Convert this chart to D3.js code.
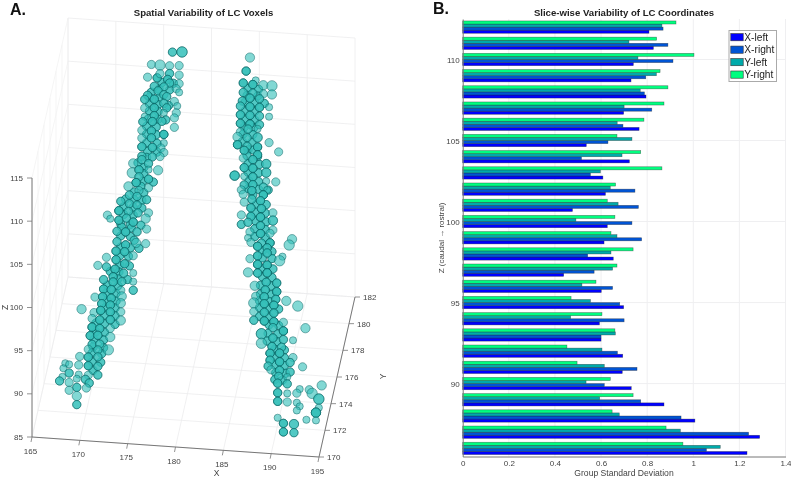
<!DOCTYPE html>
<html><head><meta charset="utf-8">
<script src="https://cdn.jsdelivr.net/npm/d3@7/dist/d3.min.js"></script>
<style>html,body{margin:0;padding:0;background:#fff}svg{display:block;filter:blur(.35px)}text{font-family:"Liberation Sans",Arial,sans-serif}</style>
</head><body>
<svg id="c" width="791" height="479"></svg>
<script>
// Panel B data
const sliceZ = [112,111,110,109,108,107,106,105,104,103,102,101,100,99,98,97,96,95,94,93,92,91,90,89,88,87,86];
const xLeft  = [.808,.827,.74,.73,.795,.698,.765,.536,.723,.608,.619,.476,.627,.613,.653,.438,.601,.698,.593,.60,.694,.692,.731,.873,1.007,1.288,1.233];
const xRight = [.869,.89,.912,.794,.788,.82,.695,.63,.515,.554,.747,.762,.734,.776,.542,.57,.65,.681,.70,.60,.671,.756,.614,.772,.947,1.24,1.057];
const yLeft  = [.864,.721,.76,.84,.77,.70,.67,.734,.691,.597,.64,.674,.491,.669,.643,.65,.517,.554,.468,.662,.604,.614,.535,.594,.679,.944,1.117];
const yRight = [.925,.841,1.003,.856,.89,.873,.786,.669,.772,.864,.663,.627,.66,.643,.739,.669,.578,.47,.604,.66,.452,.496,.64,.739,.648,.882,.955];
const seriesNames = ["X-left","X-right","Y-left","Y-right"];
const seriesColors = ["#0000ff","#0054d4","#00aaaa","#00ff80"];
const devTicks = [0,.2,.4,.6,.8,1,1.2,1.4];
const zBarTicks = [90,95,100,105,110];

// Panel A data: voxel centres, left strand
const leftX = [177.8,178.8,175.6,176.5,177.5,178.5,175.2,176.2,176.5,177.5,
178.5,177.3,178.5,177.5,175.9,176.9,178.2,178.5,175.2,176.3,
176.9,177.2,174.9,175.9,176.9,178,178.3,174.9,175.9,177.2,
178.2,174.9,175.9,176.9,178,174.7,175.7,176.7,178,174.6,
175.6,176.9,174.6,175.6,176.9,174.6,175.7,176.6,176.9,174.6,
175.7,176.5,173.7,174.6,175.3,173.6,174.3,175.3,176.3,174.3,
175.3,174,173.2,175.3,174.3,173.3,174.1,175.1,172.4,173.3,
174.1,172.2,173.2,174.2,175.3,171,171.3,172.2,173,173.7,
175,172,172.9,174.1,175.1,172,172.9,174,175,171.9,
172.8,170.9,173.7,170,170.9,171.9,172.8,171.8,171.6,172.7,
173.7,170.6,171.6,172.5,173.7,173.7,170.6,171.4,172.4,169.7,
170.5,171.4,172.5,168.3,170.4,171.3,172.4,169.6,170.3,171.3,
172.4,169.4,170.2,171.3,172.4,169.4,170.2,171.3,169.2,170,
171.3,169.4,170.2,169,170,171.1,168.1,169,170,166.6,
167,168,169,170,166.4,167,168,169,170,166.3,
166,167,167.8,168.7,169.1,167.8,168.8,167,167.8,167.8];
const leftZ = [121.3,121.4,119.7,119.7,119.7,119.8,118.2,118.2,118.7,118.8,
118.7,118.1,117.7,117.7,117.2,117.2,117.1,116.7,116.1,116.7,
116.3,116.1,115.6,115.7,115.3,115.6,115.1,114.6,114.7,114.8,
114.3,113.6,113.8,114.2,113.7,113,113.1,113.2,112.6,112,
112,111.7,111.1,111.2,110.7,110.1,110.1,110.1,109.6,109,
109,109.1,108.1,108.6,108.2,107,107.4,107.5,107.5,106.6,
106.4,105.9,105.4,105.4,105,104.4,104.3,104,103.6,103.4,
103.3,102.5,102.5,102.4,102.5,101.9,101.5,101.4,101.7,101.3,
101.8,100.1,100.1,100.2,100.6,98.9,98.6,98.9,98.9,97.8,
97.8,97,97.4,96,95.9,96.8,96.4,95.7,94.8,95.3,
95.4,94.4,94.2,94.3,94.4,93.4,93.3,93.3,93.3,92.3,
92.4,92.3,92.6,90.8,91.6,91.5,91.8,90.5,90.8,90.7,
90.8,89.8,89.7,89.8,89.8,88.8,88.7,88.8,87.8,87.9,
87.8,86.8,86.9,86.2,86.2,86.3,85.3,85.3,85.4,84.4,
84.3,84.3,84.3,84.3,83.8,83.3,83.2,83.2,83.3,82.8,
82.3,82.2,82.7,82.7,82.3,81.7,81.7,81.3,80.7,79.7];
const leftWeight = [2,4,2,4,2,2,2,2,2,2,
2,2,2,2,2,2,2,1,2,2,
2,2,2,2,2,2,1,2,2,2,
2,1,2,1,2,2,2,2,2,2,
2,2,2,2,1,2,2,2,2,2,
2,2,3,2,2,4,2,1,3,2,
2,2,3,2,2,2,2,2,2,2,
2,2,2,2,2,2,1,2,2,2,
3,2,2,2,2,2,2,3,2,2,
2,2,2,2,2,2,2,2,2,2,
1,2,2,2,1,2,2,2,2,2,
2,2,3,3,2,2,3,2,2,2,
2,2,2,2,3,2,2,2,2,2,
3,2,2,2,2,4,2,2,2,1,
1,2,2,2,1,2,1,2,2,1,
2,2,1,2,2,2,2,2,3,2];
const leftCount = [2,2,1,1,1,1,1,3,1,2,
1,3,1,2,2,2,1,1,2,2,
2,2,2,3,2,1,1,1,3,2,
1,1,3,1,1,2,3,2,1,1,
3,4,1,3,1,3,3,1,1,2,
2,1,1,2,2,1,3,1,1,2,
3,4,1,1,1,2,2,2,2,2,
2,4,2,2,1,1,1,3,2,3,
1,2,4,2,1,2,3,1,1,3,
3,1,1,1,2,3,3,3,3,2,
1,2,3,2,1,2,3,3,1,1,
3,3,1,1,3,3,1,1,4,3,
1,1,3,3,1,4,3,1,3,3,
1,2,2,1,2,1,1,3,2,1,
1,1,3,2,1,2,1,1,2,1,
2,1,1,2,2,2,1,1,1,2];

// Panel A data: voxel centres, right strand
const rightX = [185.9,185.5,186.5,185.2,186.2,187.3,188.2,185.2,186.2,187.3,
188.2,185.1,185.9,186.9,184.9,185.9,186.9,187.9,184.9,185.9,
186.9,187.9,184.9,185.9,186.9,184.9,185.7,186.7,184.6,185.6,
186.7,187.9,184.6,185.6,186.7,188.9,185.3,186.7,185.2,186.2,
187.6,185.3,186.2,187.6,184.3,185.3,186.2,187.6,188.6,185.3,
186.2,187.3,185,186.1,187.7,185.2,187.3,186.1,185.3,187,
186,187.1,185,188.3,186,187,185,188.3,185.7,187,
188.3,185.9,187,188,185.7,190.3,190,186,188,186.7,
187.7,189.3,185.9,186.7,187.7,186.7,187.7,189,185.7,186.7,
187.7,188.7,186.4,187.6,187.5,188.7,186.5,187.4,188.6,189.7,
186.3,187.4,188.4,190.9,186.3,187.4,188.4,186.3,187.4,188.4,
189.4,191.7,188.3,189.4,187.1,188.3,189.4,190.4,187.1,188.2,
189.2,188,189,190.4,188,189,190.1,191.4,187.8,188.1,
189,190.1,188.9,189.8,188.8,189.8,191.1,193.4,192.1,188.8,
189.8,190.8,192.4,193.1,188.8,189.8,190.8,191.1,193.1,190.8,
192.8,188.8,191.8,192.8,189.4,190.5,189.4,190.5];
const rightZ = [121.3,119.7,118.7,118.3,118.2,118.2,118.2,117.2,117.2,117.2,
117.2,116.2,116.6,116.6,115.6,115.6,115.6,115.7,114.6,114.6,
114.6,114.6,113.6,113.6,113.6,112.6,113,113.1,112,112,
112.1,111.6,111.1,111,111,110.6,110.5,110.1,109.6,109.5,
109.1,108.5,108.5,108.1,107.5,107.5,107.5,107.1,107.1,106.5,
106.6,106.4,105.9,105.9,106.1,105.4,105.5,104.9,104.5,104.8,
103.9,103.9,103,103.5,102.9,102.9,101.9,102.6,102.2,101.9,
101.5,101.1,101,101.1,100.4,100.6,99.9,99.9,100,99.5,
99.4,98.5,98,98.4,98.8,97.4,97.4,98,96.4,96.4,
96.5,95.4,94.9,95.4,94.5,94.4,93.7,93.7,93.5,93.4,
92.9,92.9,92.8,92.9,91.9,91.9,91.9,90.9,90.9,90.9,
90.9,90.4,90.2,89.9,89.4,89,88.9,88.9,88.3,88,
88,87.2,87.3,86.9,86.4,86.3,86.3,85.9,85.7,85.3,
85.3,85.2,84.6,84.6,83.8,83.8,83.3,83.9,83.3,82.7,
82.7,82.8,82.9,82.3,81.7,81.7,81.7,81.3,81.3,80.8,
80.7,79.8,79.8,79.8,79.2,79.2,78.2,78.2];
const rightWeight = [3,2,1,2,2,3,4,2,2,2,
3,2,2,2,2,2,2,1,2,2,
2,1,2,2,2,2,2,1,3,2,
3,2,2,2,2,2,2,2,2,2,
3,2,2,3,3,1,2,1,2,2,
2,2,2,2,1,2,2,2,2,2,
2,2,2,2,2,2,2,3,2,2,
2,2,2,2,1,3,4,2,2,2,
2,1,2,2,2,2,2,4,3,2,
2,2,3,2,2,2,2,2,2,3,
4,2,2,4,2,2,2,2,2,2,
2,3,2,2,4,2,2,1,4,2,
2,2,2,2,2,2,2,2,2,2,
2,2,2,1,2,2,1,3,2,2,
1,2,4,4,2,2,1,1,1,1,
3,1,1,1,2,3,2,2];
const rightCount = [1,3,1,3,4,1,1,2,2,1,
1,2,3,2,2,4,3,1,3,3,
2,1,3,4,2,1,2,1,1,2,
2,1,4,2,4,1,3,3,1,3,
2,3,4,2,3,1,3,1,1,2,
3,2,1,3,1,1,4,2,1,3,
3,3,1,1,3,4,2,2,2,3,
1,1,4,1,1,1,1,1,4,4,
3,1,1,3,3,4,4,1,1,3,
5,3,1,3,3,4,1,3,3,1,
1,4,4,1,1,3,3,2,4,4,
1,1,2,5,2,3,2,1,1,3,
2,4,4,1,3,4,2,1,2,1,
3,2,2,1,3,2,1,1,1,3,
1,1,1,2,3,1,1,1,1,1,
4,1,1,1,3,2,3,2];
// Core voxels between the outlined ones (two layers, medium size)
const coreX = [176.7,177.9,176.4,177.5,175.6,175.4,176.4,175.4,176.3,177.4,175.4,176.3,175.3,176.3,177.1,175.1,176.1,175.1,176.1,175.1,176.2,175.2,176.2,175.1,174.2,174.8,174.8,174.7,175.8,174.5,173.8,174.8,172.9,173.8,174.6,172.7,173.7,174.6,172.7,173.7,172.4,173.4,174.5,172.5,173.5,172.4,173.4,173.8,172.4,173.4,174.3,172.3,173.2,172.3,173.3,171.3,172.2,172.1,173.1,171,172.1,170.9,171.9,171,171.9,170.8,171.8,170.7,171.8,169.8,170.7,171.8,169.8,170.7,169.6,170.6,169.5,170.6,169.4,170.4,169.4,170.3,169.5,
185.7,186.8,185.6,186.7,185.4,186.4,187.4,185.4,186.4,185.4,186.4,185.3,186.3,185.2,186.2,185.1,186.1,185.7,186.3,185.6,186.7,185.7,186.9,185.7,186.8,185.8,186.8,185.7,186.8,187.8,186.2,186.6,187.6,186.4,187.5,186.5,187.6,186.4,187.5,186.4,187.5,187.1,187.2,188.2,187.2,188.2,187.2,188.3,187.2,188.2,187,188.1,187,188.1,186.9,187.9,186.9,187.9,188.9,186.9,187.9,187.9,188.9,187.8,188.8,187.7,188.7,188.5,189.5,188.5,189.5,188.5,189.5,188.6,189.6,188.5,189.3];
const coreZ = [117.7,117.7,116.9,116.9,116.5,115.9,115.9,115.1,115.1,115.1,114.3,114.3,113.4,113.4,113.4,112.5,112.5,111.6,111.6,110.6,110.6,109.6,109.6,108.9,108.2,107.7,107,106.1,106.1,105.5,104.8,104.8,103.9,103.9,103.9,103,103,103,102.1,102.1,101,101,101,100.6,100.6,99.6,99.6,99.2,98.3,98.3,98.3,97.3,97.3,96.2,96.2,95.4,95.4,94.6,94.6,93.8,93.8,92.9,92.9,92,92,91.2,91.2,90.3,90.3,89.3,89.3,89.3,88.3,88.3,87.4,87.4,86.5,86.5,85.8,85.8,84.8,84.8,83.8,
117.7,117.7,116.9,116.9,116.1,116.1,116.1,115.1,115.1,114.1,114.1,113.2,113.2,112.4,112.4,111.5,111.5,110.6,110.6,109.9,109.9,109,109,108,108,107,107,106.1,106.1,106.1,105.4,104.4,104.4,103.4,103.4,102.4,102.4,101.5,101.5,100.6,100.6,99.9,99,99,98.2,98.2,97,97,96,96,95,95,94,94,93.2,93.2,92.4,92.4,92.4,91.4,91.4,90.5,90.5,89.5,89.5,88.6,88.6,87.7,87.7,86.8,86.8,85.9,85.9,85,85,84.2,84.2];
const strandY = 176;
const sceneXTicks = [165,170,175,180,185,190,195];
const sceneYTicks = [170,172,174,176,178,180,182];
const sceneZTicks = [85,90,95,100,105,110,115];

const svg = d3.select("#c");
const INK = "#444";

// ---------- Panel A ----------
const origin = [32,437];
const xToH = d3.scaleLinear().domain([165,195]).range([0,287]);
const xToV = d3.scaleLinear().domain([165,195]).range([0,20]);
const yToH = d3.scaleLinear().domain([170,182]).range([0,36]);
const yToV = d3.scaleLinear().domain([170,182]).range([0,-160]);
const zToV = d3.scaleLinear().domain([85,115]).range([0,-259]);
const px = (x,y) => origin[0]+xToH(x)+yToH(y);
const py = (x,y,z) => origin[1]+xToV(x)+yToV(y)+zToV(z);
const rScale = d3.scaleLinear().domain([1,4]).range([3.6,5.2]);

const a = svg.append("g");
const gridC = "#ececee", wallC = "#f2f2f3";
function seg(g,p,q,c,w){g.append("line").attr("x1",p[0]).attr("y1",p[1]).attr("x2",q[0]).attr("y2",q[1]).attr("stroke",c).attr("stroke-width",w);}
const P = (x,y,z)=>[px(x,y),py(x,y,z)];
const [X0,X1]=xToH.domain(),[Y0,Y1]=yToH.domain(),[Z0,Z1]=zToV.domain();
sceneYTicks.forEach(y=>{ seg(a,P(X0,y,Z0),P(X0,y,Z1),wallC,.8); });
sceneZTicks.forEach(z=>{ seg(a,P(X0,Y0,z),P(X0,Y1,z),wallC,.8); });
sceneXTicks.forEach(x=>{ seg(a,P(x,Y0,Z0),P(x,Y1,Z0),gridC,.8); seg(a,P(x,Y1,Z0),P(x,Y1,Z1),gridC,.8); });
sceneYTicks.forEach(y=>{ seg(a,P(X0,y,Z0),P(X1,y,Z0),gridC,.8); });
sceneZTicks.forEach(z=>{ seg(a,P(X0,Y1,z),P(X1,Y1,z),gridC,.8); });

const axC = "#777";
seg(a,P(X0,Y0,Z0),P(X0,Y0,Z1),axC,1);
seg(a,P(X0,Y0,Z0),P(X1,Y0,Z0),axC,1);
seg(a,P(X1,Y0,Z0),P(X1,Y1,Z0),axC,1);
function lab(t,x,y,anchor,size,g){return (g||svg).append("text").attr("x",x).attr("y",y).attr("text-anchor",anchor||"middle").attr("dominant-baseline","central").attr("font-size",size||8).attr("fill",INK).text(t);}
sceneZTicks.forEach(z=>{const p=P(X0,Y0,z);seg(a,p,[p[0]-5,p[1]],axC,.8);lab(z,p[0]-9,p[1],"end",8,a);});
sceneXTicks.forEach(x=>{const p=P(x,Y0,Z0);seg(a,p,[p[0]-1,p[1]+5],axC,.8);lab(x,p[0]-1.5,p[1]+14,"middle",8,a);});
sceneYTicks.forEach(y=>{const p=P(X1,y,Z0);seg(a,p,[p[0]+5,p[1]],axC,.8);lab(y,p[0]+8,p[1]+.5,"start",8,a);});
lab("X",216.5,473,"middle",8.5,a);
lab("Y",382.5,376.5,"middle",8.5,a).attr("transform","rotate(-90 382.5 376.5)");
lab("Z",4.5,307.5,"middle",8.5,a).attr("transform","rotate(-90 4.5 307.5)");

const vox = [];
coreX.forEach((x,i)=>{ vox.push({x,z:coreZ[i],w:2}); vox.push({x,z:coreZ[i],w:2}); });
[[leftX,leftZ,leftWeight,leftCount],[rightX,rightZ,rightWeight,rightCount]].forEach(([xs,zs,ws,ns])=>{
  xs.forEach((x,i)=>{ d3.range(ns[i]).forEach(()=>vox.push({x,z:zs[i],w:ws[i]})); });
});
a.append("g").selectAll("circle").data(vox).join("circle")
 .attr("cx",d=>px(d.x,strandY)).attr("cy",d=>py(d.x,strandY,d.z)).attr("r",d=>rScale(d.w))
 .attr("fill","#35c0b9").attr("fill-opacity",.62)
 .attr("stroke","#075f5e").attr("stroke-opacity",.6).attr("stroke-width",.8);

svg.append("text").attr("x",203.5).attr("y",12).attr("text-anchor","middle").attr("dominant-baseline","central")
 .attr("font-size",9.6).attr("font-weight","bold").attr("fill","#222").text("Spatial Variability of LC Voxels");
svg.append("text").attr("x",10).attr("y",9).attr("dominant-baseline","central").attr("font-size",16).attr("font-weight","bold").attr("fill","#111").text("A.");

// ---------- Panel B ----------
const x = d3.scaleLinear().domain([0,1.4]).range([462.7,785.5]);
const z = d3.scaleLinear().domain([85.5,112.5]).range([456.5,19]);
const band = d3.scaleBand().domain(sliceZ).range([z(112.5),z(85.5)]).paddingInner(.24).paddingOuter(.12);
const inner = d3.scaleBand().domain(["Y-right","Y-left","X-right","X-left"]).range([0,band.bandwidth()]);
const b = svg.append("g");
b.append("g").selectAll("line").data(devTicks.slice(1)).join("line")
 .attr("x1",d=>x(d)).attr("x2",d=>x(d)).attr("y1",z(112.5)).attr("y2",z(85.5)).attr("stroke","#efeff1").attr("stroke-width",1);
b.append("g").selectAll("line").data(zBarTicks).join("line")
 .attr("x1",x(0)).attr("x2",x(1.4)).attr("y1",d=>z(d)).attr("y2",d=>z(d)).attr("stroke","#efeff1").attr("stroke-width",1);
[xLeft,xRight,yLeft,yRight].forEach((vals,si)=>{
  const name = seriesNames[si];
  b.append("g").selectAll("rect").data(vals).join("rect")
   .attr("x",x(0)).attr("width",d=>x(d)-x(0))
   .attr("y",(d,i)=>band(sliceZ[i])+inner(name)).attr("height",inner.bandwidth())
   .attr("fill",seriesColors[si]).attr("stroke","#222").attr("stroke-opacity",.55).attr("stroke-width",.6);
});
const axB = d3.axisBottom(x).tickValues(devTicks).tickFormat(d3.format("~g")).tickSize(0).tickPadding(4);
const gx = b.append("g").attr("transform",`translate(0,${z(85.5)})`).call(axB);
gx.select(".domain").attr("stroke",axC);
gx.selectAll("text").attr("font-size",8).attr("fill",INK).attr("font-family",'"Liberation Sans"');
const axL = d3.axisLeft(z).tickValues(zBarTicks).tickSize(0).tickPadding(3);
const gy = b.append("g").attr("transform",`translate(${x(0)},0)`).call(axL);
gy.select(".domain").attr("stroke",axC);
gy.selectAll("text").attr("font-size",8).attr("fill",INK).attr("font-family",'"Liberation Sans"');
lab("Group Standard Deviation",624,473,"middle",8.6,b);
lab("Z (caudal \u2192 rostral)",441.7,238,"middle",8,b).attr("transform","rotate(-90 441.7 238)");
svg.append("text").attr("x",624).attr("y",12).attr("text-anchor","middle").attr("dominant-baseline","central")
 .attr("font-size",9.6).attr("font-weight","bold").attr("fill","#222").text("Slice-wise Variability of LC Coordinates");
svg.append("text").attr("x",433).attr("y",8).attr("dominant-baseline","central").attr("font-size",16).attr("font-weight","bold").attr("fill","#111").text("B.");

// legend
const lg = svg.append("g");
lg.append("rect").attr("x",729).attr("y",30.5).attr("width",47.5).attr("height",51).attr("fill","#fff").attr("stroke","#aaa").attr("stroke-width",1);
const rowY = d3.scalePoint().domain(seriesNames).range([37.2,74.6]);
seriesNames.forEach((n,i)=>{
  lg.append("rect").attr("x",730.8).attr("y",rowY(n)-3.6).attr("width",12.4).attr("height",7.2).attr("fill",seriesColors[i]).attr("stroke","#333").attr("stroke-width",.6);
  lg.append("text").attr("x",744.3).attr("y",rowY(n)).attr("dominant-baseline","central").attr("font-size",10.2).attr("fill","#222").text(n);
});
</script>
</body></html>
